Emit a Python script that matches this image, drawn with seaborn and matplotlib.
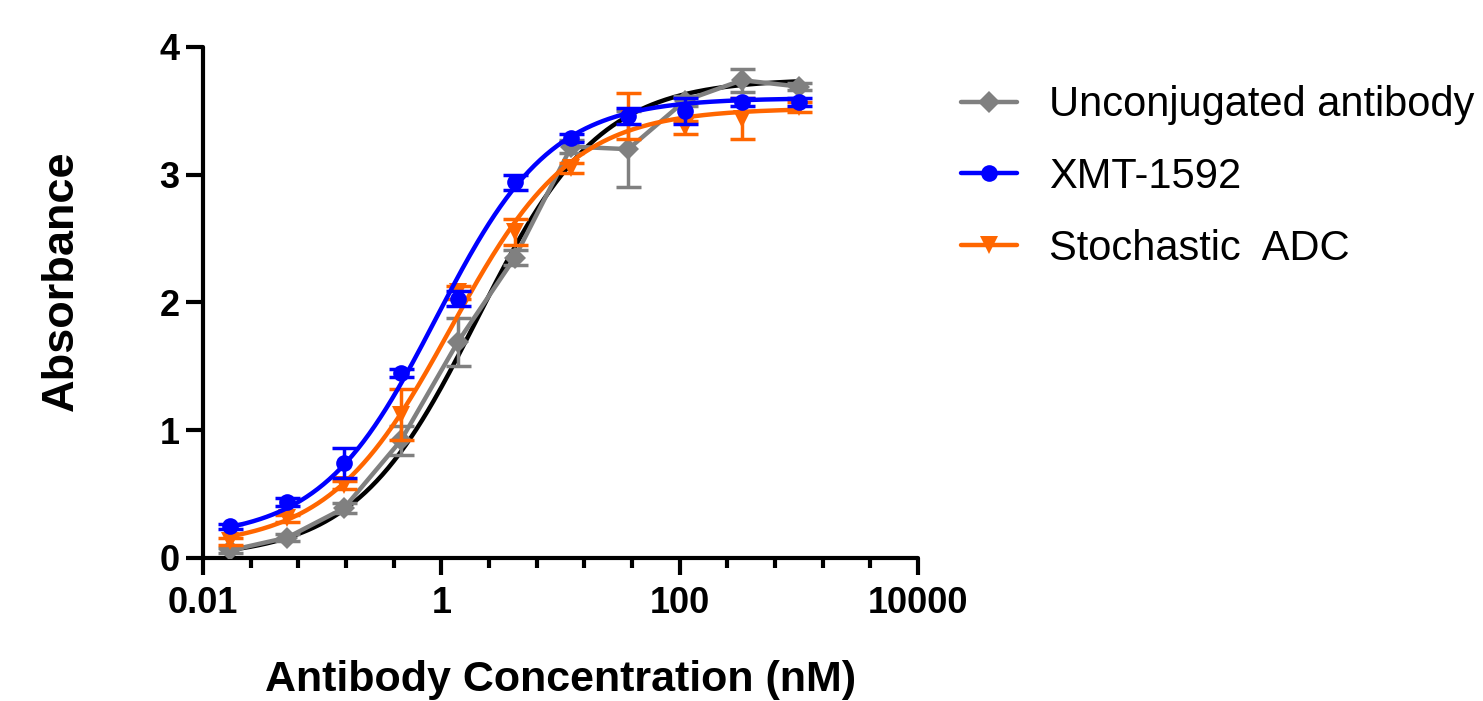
import numpy as np
import pandas as pd
import matplotlib
matplotlib.use("Agg")
import matplotlib.pyplot as plt
import seaborn as sns
from matplotlib.ticker import FixedLocator, NullFormatter
from matplotlib.lines import Line2D

# ---- data ----
conc = [0.0169, 0.0508, 0.152, 0.457, 1.37, 4.12, 12.3, 37.0, 111.0, 333.0, 1000.0]
unconj = [0.06, 0.16, 0.39, 0.92, 1.69, 2.35, 3.22, 3.20, 3.58, 3.74, 3.69]
unconj_sd = [0.02, 0.03, 0.04, 0.11, 0.19, 0.06, 0.05, 0.30, 0.04, 0.09, 0.03]
xmt = [0.25, 0.44, 0.745, 1.45, 2.03, 2.94, 3.29, 3.46, 3.50, 3.57, 3.57]
xmt_sd = [0.02, 0.03, 0.115, 0.03, 0.06, 0.06, 0.03, 0.06, 0.10, 0.03, 0.03]
stoch = [0.13, 0.31, 0.57, 1.12, 2.08, 2.55, 3.05, 3.46, 3.37, 3.44, 3.53]
stoch_sd = [0.03, 0.03, 0.03, 0.20, 0.05, 0.10, 0.04, 0.18, 0.05, 0.16, 0.04]

# 4PL fit parameters (bottom, top, EC50, hill)
fit_unconj = [0.0, 3.75, 2.0, 0.85]
fit_xmt = [0.15, 3.60, 0.9, 0.9]
fit_stoch = [0.08, 3.52, 1.2, 0.85]

labels = ["Unconjugated antibody", "XMT-1592", "Stochastic  ADC"]
x_ticks = [0.01, 1, 100, 10000]
x_ticklabels = ["0.01", "1", "100", "10000"]
y_ticks = [0, 1, 2, 3, 4]

GRAY, BLUE, ORANGE, BLACK = "#808080", "#0000FF", "#FF6600", "#000000"


def four_pl(x, p):
    b, t, ec, h = p
    return b + (t - b) / (1.0 + (ec / x) ** h)


sns.set_style("ticks")
plt.rcParams["font.family"] = ["Liberation Sans", "DejaVu Sans"]
plt.rcParams["text.color"] = "black"
plt.rcParams["axes.labelcolor"] = "black"
plt.rcParams["xtick.color"] = "black"
plt.rcParams["ytick.color"] = "black"
plt.rcParams["axes.edgecolor"] = "black"

fig = plt.figure(figsize=(14.83, 7.01), dpi=100)
ax = fig.add_axes([0.137, 0.204, 0.482, 0.729])

xs = np.logspace(np.log10(conc[0]), np.log10(conc[-1]), 300)
curves = pd.concat([
    pd.DataFrame({"x": xs, "y": four_pl(xs, fit_unconj), "s": "fu"}),
    pd.DataFrame({"x": xs, "y": four_pl(xs, fit_xmt), "s": "fx"}),
    pd.DataFrame({"x": xs, "y": four_pl(xs, fit_stoch), "s": "fs"}),
])

lw = 3.2
# black fit for unconjugated
sns.lineplot(data=curves[curves.s == "fu"], x="x", y="y", color=BLACK, lw=lw,
             ax=ax, legend=False, zorder=2)
# gray connecting line for unconjugated
ax.errorbar(conc, unconj, yerr=unconj_sd, fmt="none", ecolor=GRAY, elinewidth=2.5,
            capsize=9, capthick=2.5, zorder=3)
sns.lineplot(x=conc, y=unconj, color=GRAY, lw=lw, marker="D", markersize=11,
             markeredgewidth=0, ax=ax, legend=False, zorder=3)

ax.errorbar(conc, stoch, yerr=stoch_sd, fmt="none", ecolor=ORANGE, elinewidth=2.5,
            capsize=9, capthick=2.5, zorder=4)
sns.lineplot(data=curves[curves.s == "fs"], x="x", y="y", color=ORANGE, lw=lw,
             ax=ax, legend=False, zorder=4)
ax.plot(conc, stoch, ls="none", marker="v", ms=13, mew=0, color=ORANGE, zorder=4)

ax.errorbar(conc, xmt, yerr=xmt_sd, fmt="none", ecolor=BLUE, elinewidth=2.5,
            capsize=9, capthick=2.5, zorder=5)
sns.lineplot(data=curves[curves.s == "fx"], x="x", y="y", color=BLUE, lw=lw,
             ax=ax, legend=False, zorder=5)
ax.plot(conc, xmt, ls="none", marker="o", ms=12, mew=0, color=BLUE, zorder=5)

ax.set_xscale("log")
ax.set_xlim(0.01, 10000)
ax.set_ylim(0, 4)
ax.xaxis.set_major_locator(FixedLocator(x_ticks))
ax.set_xticklabels(x_ticklabels)
minor = [10 ** (-2 + 0.4 * k) for k in range(16) if k % 5 != 0]
ax.xaxis.set_minor_locator(FixedLocator(minor))
ax.xaxis.set_minor_formatter(NullFormatter())
ax.set_yticks(y_ticks)

for s in ["top", "right"]:
    ax.spines[s].set_visible(False)
for s in ["left", "bottom"]:
    ax.spines[s].set_linewidth(3.0)
    ax.spines[s].set_capstyle("round")

ax.tick_params(axis="x", which="major", length=12, width=3.0, labelsize=26, pad=8)
ax.tick_params(axis="x", which="minor", length=7, width=3.0)
ax.tick_params(axis="y", which="major", length=12, width=3.0, labelsize=26, pad=5)
for lab in ax.get_xticklabels() + ax.get_yticklabels():
    lab.set_fontweight("bold")

ax.set_xlabel("Antibody Concentration (nM)", fontsize=31, fontweight="bold", labelpad=28)
ax.set_ylabel("Absorbance", fontsize=32.5, fontweight="bold")
ax.yaxis.set_label_coords(-0.169, 0.542)

handles = [
    Line2D([], [], color=GRAY, lw=lw, marker="D", ms=11, mew=0),
    Line2D([], [], color=BLUE, lw=lw, marker="o", ms=12, mew=0),
    Line2D([], [], color=ORANGE, lw=lw, marker="v", ms=13, mew=0),
]
fig.legend(handles, labels, loc="upper left", bbox_to_anchor=(0.637, 0.902),
           frameon=False, fontsize=30, handlelength=1.34, handletextpad=0.77,
           labelspacing=0.76, borderaxespad=0)

fig.savefig("out.png", dpi=100)
